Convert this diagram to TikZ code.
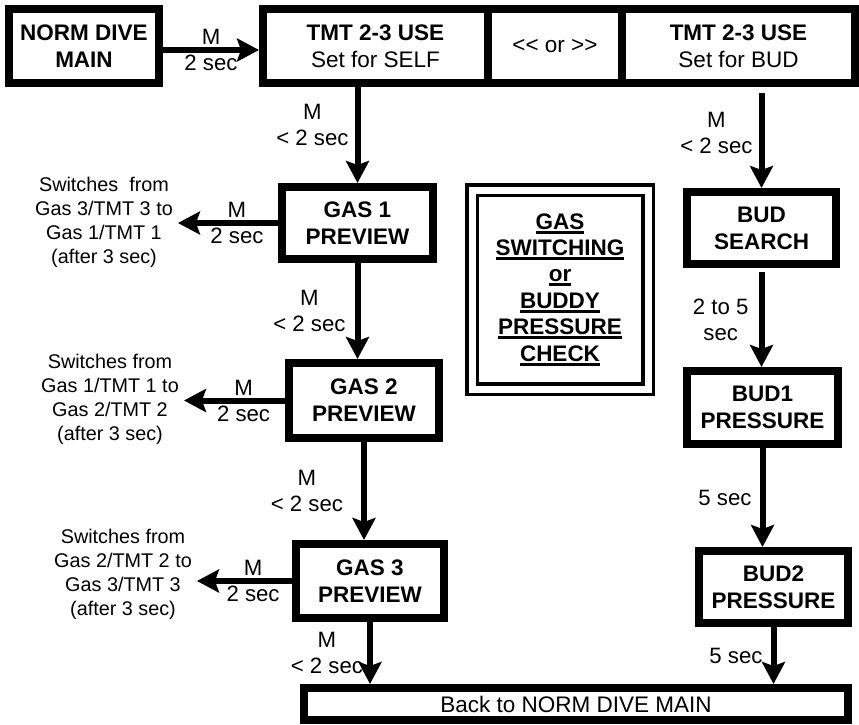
\documentclass[tikz,border=0pt]{standalone}
\usepackage{fontspec}
\setmainfont{Liberation Sans}[Ligatures=TeXOff]
\usepackage{tikz}
\usetikzlibrary{arrows.meta,calc,positioning}

\newcommand{\ulbold}[1]{\setbox0=\hbox{#1}\rlap{\rule[-4.5pt]{\wd0}{3pt}}\box0}

\begin{document}
\begin{tikzpicture}[x=1pt,y=-1pt,>={Stealth[length=22pt,width=23pt,inset=4pt]},
  screen/.style={draw,line width=8pt,inner sep=0pt,align=center,font=\fontsize{22.5}{27}\selectfont\bfseries},
  flow/.style={->,line width=6pt},
  lbl/.style={align=center,inner sep=0pt,font=\fontsize{22.2}{26}\selectfont},
  note/.style={align=center,inner sep=5pt,font=\fontsize{19.8}{24}\selectfont}]
  \useasboundingbox (0,0) rectangle (859,725);
  % top row
  \node[screen,minimum width=150pt,minimum height=74pt] (norm) at (84,46) {NORM DIVE\\MAIN};
  \node[screen,minimum width=225pt,minimum height=74pt] (self) at (375.5,46) {TMT 2-3 USE\\\textmd{Set for SELF}};
  \node[screen,minimum width=134pt,minimum height=74pt] (orx) at (555,46) {\textmd{<< or >>}};
  \node[screen,minimum width=233pt,minimum height=74pt] (bud) at (738.5,46) {TMT 2-3 USE\\\textmd{Set for BUD}};
  % gas column
  \node[screen,minimum width=151pt,minimum height=72pt] (gas1) at (357.5,223) {GAS 1\\PREVIEW};
  \node[screen,minimum width=150pt,minimum height=75pt] (gas2) at (364,400.5) {GAS 2\\PREVIEW};
  \node[screen,minimum width=148pt,minimum height=74pt] (gas3) at (370,581) {GAS 3\\PREVIEW};
  \node[note] (note1) at (104,222.5) {Switches\ \ from\\Gas 3/TMT 3 to\\Gas 1/TMT 1\\(after 3 sec)};
  \node[note] (note2) at (110,399) {Switches from\\Gas 1/TMT 1 to\\Gas 2/TMT 2\\(after 3 sec)};
  \node[note] (note3) at (123,574) {Switches from\\Gas 2/TMT 2 to\\Gas 3/TMT 3\\(after 3 sec)};
  % buddy column
  \node[screen,minimum width=149pt,minimum height=72pt] (search) at (761.5,228) {BUD\\SEARCH};
  \node[screen,minimum width=151pt,minimum height=73pt] (bud1) at (762.5,407.5) {BUD1\\PRESSURE};
  \node[screen,minimum width=149pt,minimum height=72pt] (bud2) at (773.5,587) {BUD2\\PRESSURE};
  \node[screen,minimum width=544pt,minimum height=32pt] (back) at (576,704) {\textmd{Back to NORM DIVE MAIN}};
  % title in the middle
  \node[draw,line width=3.5pt,double,double distance=7pt,minimum width=176pt,minimum height=199pt,
        align=center,font=\fontsize{22.5}{26.4}\selectfont\bfseries] (title) at (560,289.5)
       {\ulbold{GAS}\\\ulbold{SWITCHING}\\\ulbold{or}\\\ulbold{BUDDY}\\\ulbold{PRESSURE}\\\ulbold{CHECK}};

  \draw[flow] ([yshift=-4pt]norm.east) -- ([yshift=-4pt]norm.east -| self.west) node[lbl,midway]{M\\2 sec};
  \draw[flow] (gas1.north |- self.south) -- (gas1.north) node[lbl,pos=0.4,left=6pt]{M\\< 2 sec};
  \draw[flow] (gas1.west) -- (gas1.west -| note1.east) node[lbl,pos=0.41]{M\\2 sec};
  \draw[flow] (gas1.south) -- (gas1.south |- gas2.north) node[lbl,midway,left=9pt]{M\\< 2 sec};
  \draw[flow] (gas2.west) -- (gas2.west -| note2.east) node[lbl,pos=0.41]{M\\2 sec};
  \draw[flow] (gas2.south) -- (gas2.south |- gas3.north) node[lbl,midway,left=18pt]{M\\< 2 sec};
  \draw[flow] (gas3.west) -- (gas3.west -| note3.east) node[lbl,pos=0.41]{M\\2 sec};
  \draw[flow] (gas3.south) -- (gas3.south |- back.north) node[lbl,midway,left=4pt]{M\\< 2 sec};

  \draw[flow] ($(search.north |- bud.south)+(0,6)$) -- (search.north) node[lbl,pos=0.42,left=6pt]{M\\< 2 sec};
  \draw[flow] ($(search.south)+(0,4)$) -- (search.south |- bud1.north) node[lbl,midway,left=10pt]{2 to 5\\sec};
  \draw[flow] (bud1.south) -- (bud1.south |- bud2.north) node[lbl,midway,left=8pt]{5 sec};
  \draw[flow] (bud2.south) -- (bud2.south |- back.north) node[lbl,midway,left=8pt]{5 sec};
\end{tikzpicture}
\end{document}
